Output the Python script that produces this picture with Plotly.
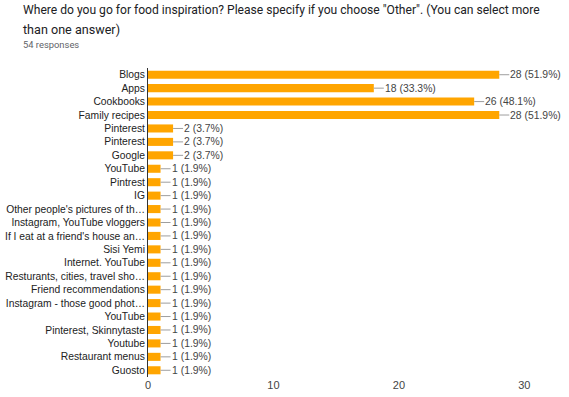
import plotly.graph_objects as go

categories = [
    "Blogs", "Apps", "Cookbooks", "Family recipes", "Pinterest", "Pinterest",
    "Google", "YouTube", "Pintrest", "IG", "Other people's pictures of th\u2026",
    "Instagram, YouTube vloggers", "If I eat at a friend's house an\u2026",
    "Sisi Yemi", "Internet. YouTube", "Resturants, cities, travel sho\u2026",
    "Friend recommendations", "Instagram - those good phot\u2026", "YouTube",
    "Pinterest, Skinnytaste", "Youtube", "Restaurant menus", "Guosto",
]
values = [28, 18, 26, 28, 2, 2, 2, 1, 1, 1, 1, 1, 1, 1, 1, 1, 1, 1, 1, 1, 1, 1, 1]
percents = ["51.9%", "33.3%", "48.1%", "51.9%", "3.7%", "3.7%", "3.7%"] + ["1.9%"] * 16
x_ticks = [0, 10, 20, 30]
total_responses = 54
title_line1 = 'Where do you go for food inspiration? Please specify if you choose "Other". (You can select more'
title_line2 = "than one answer)"

positions = list(range(len(categories)))
BAR = "#ffa500"
FONT = "Liberation Sans, Arial"

fig = go.Figure()
fig.add_trace(go.Bar(
    x=values, y=positions, orientation="h",
    marker=dict(color=BAR, line=dict(width=0)),
    width=0.6, hoverinfo="skip",
))

for p, v, pc in zip(positions, values, percents):
    fig.add_annotation(
        x=v, y=p, xref="x", yref="y",
        text=f"{v} ({pc})", showarrow=True, arrowhead=0, arrowwidth=1,
        arrowcolor="#9e9e9e", ax=10, ay=0, xanchor="left", standoff=0,
        borderpad=0, font=dict(family=FONT, size=10.4, color="#444444"),
    )

W, H = 569, 397
L, R, T, B = 148, 7, 68, 20

def px_x(v):
    return (v - L) / (W - L - R)

def px_y(v):
    return 1 - (v - T) / (H - T - B)

fig.add_annotation(x=px_x(21), y=px_y(10.5), xref="paper", yref="paper", text=title_line1,
                   showarrow=False, xanchor="left", yanchor="middle",
                   font=dict(family="Roboto", size=12.1, color="#202124"))
fig.add_annotation(x=px_x(21), y=px_y(30), xref="paper", yref="paper", text=title_line2,
                   showarrow=False, xanchor="left", yanchor="middle",
                   font=dict(family="Roboto", size=12.6, color="#202124"))
fig.add_annotation(x=px_x(21), y=px_y(45), xref="paper", yref="paper",
                   text=f"{total_responses} responses",
                   showarrow=False, xanchor="left", yanchor="middle",
                   font=dict(family="Roboto", size=9.4, color="#5f6368"))

fig.update_layout(
    width=W, height=H,
    margin=dict(l=L, r=R, t=T, b=B, autoexpand=False),
    plot_bgcolor="white", paper_bgcolor="white",
    showlegend=False,
    xaxis=dict(range=[0, 33], tickvals=x_ticks, showgrid=False, zeroline=False,
               showline=False, ticks="", automargin=False,
               tickfont=dict(family=FONT, size=11, color="#444444")),
    yaxis=dict(tickvals=positions, ticktext=categories, autorange=False,
               range=[len(categories) - 0.5, -0.5], showgrid=False, zeroline=False,
               showline=True, linecolor="#333333", linewidth=1, ticks="", ticklen=0,
               automargin=False,
               tickfont=dict(family=FONT, size=10.3, color="#222222")),
)

fig.write_html(
    "out.html",
    config={"displayModeBar": False},
    post_script="document.body.style.margin='0';document.body.style.overflow='hidden';",
)
